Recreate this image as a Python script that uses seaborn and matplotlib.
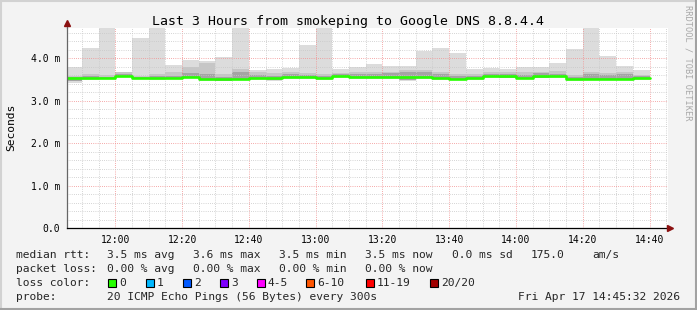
import numpy as np
import pandas as pd
import matplotlib
matplotlib.use("Agg")
import matplotlib.pyplot as plt
import seaborn as sns
from matplotlib.ticker import MultipleLocator, FixedLocator
from matplotlib.lines import Line2D
from matplotlib.patches import Rectangle

# ---------------- data ----------------
times = ["11:45", "11:50", "11:55", "12:00", "12:05", "12:10", "12:15", "12:20",
         "12:25", "12:30", "12:35", "12:40", "12:45", "12:50", "12:55", "13:00",
         "13:05", "13:10", "13:15", "13:20", "13:25", "13:30", "13:35", "13:40",
         "13:45", "13:50", "13:55", "14:00", "14:05", "14:10", "14:15", "14:20",
         "14:25", "14:30", "14:35"]
median_ms = [3.53, 3.53, 3.53, 3.58, 3.53, 3.54, 3.54, 3.56, 3.51, 3.50, 3.50, 3.53,
             3.52, 3.55, 3.55, 3.52, 3.58, 3.56, 3.55, 3.55, 3.55, 3.55, 3.52, 3.51,
             3.52, 3.57, 3.57, 3.53, 3.57, 3.58, 3.50, 3.50, 3.51, 3.51, 3.52]
min_ms = [3.42, 3.49, 3.50, 3.55, 3.50, 3.48, 3.50, 3.52, 3.47, 3.45, 3.48, 3.49,
          3.47, 3.51, 3.50, 3.48, 3.54, 3.50, 3.51, 3.51, 3.46, 3.50, 3.48, 3.48,
          3.48, 3.54, 3.52, 3.50, 3.52, 3.54, 3.47, 3.48, 3.48, 3.48, 3.49]
low_ms = [3.47, 3.50, 3.51, 3.56, 3.51, 3.50, 3.51, 3.53, 3.48, 3.47, 3.49, 3.50,
          3.49, 3.52, 3.52, 3.50, 3.55, 3.52, 3.52, 3.52, 3.49, 3.52, 3.50, 3.50,
          3.50, 3.55, 3.54, 3.51, 3.54, 3.55, 3.49, 3.49, 3.49, 3.49, 3.50]
high_ms = [3.56, 3.58, 3.56, 3.63, 3.56, 3.58, 3.58, 3.64, 3.62, 3.56, 3.66, 3.60,
           3.58, 3.62, 3.60, 3.58, 3.62, 3.62, 3.62, 3.64, 3.66, 3.66, 3.62, 3.58,
           3.58, 3.62, 3.62, 3.60, 3.64, 3.62, 3.56, 3.62, 3.60, 3.62, 3.58]
upper_ms = [3.58, 3.62, 3.60, 3.66, 3.58, 3.62, 3.66, 3.80, 3.88, 3.62, 3.74, 3.66,
            3.64, 3.66, 3.64, 3.62, 3.64, 3.68, 3.66, 3.68, 3.72, 3.72, 3.66, 3.62,
            3.62, 3.66, 3.66, 3.68, 3.68, 3.70, 3.60, 3.66, 3.64, 3.66, 3.60]
max_ms = [3.80, 4.24, 4.90, 3.66, 4.47, 4.90, 3.84, 3.95, 3.93, 4.02, 4.90, 3.72,
          3.73, 3.77, 4.31, 4.90, 3.73, 3.79, 3.86, 3.81, 3.81, 4.16, 4.24, 4.12,
          3.73, 3.77, 3.73, 3.80, 3.79, 3.88, 4.21, 4.90, 4.05, 3.81, 3.72]

x_tick_labels = ["12:00", "12:20", "12:40", "13:00", "13:20", "13:40", "14:00", "14:20", "14:40"]
y_ticks = [0.0, 1.0, 2.0, 3.0, 4.0]
y_tick_labels = ["0.0", "1.0 m", "2.0 m", "3.0 m", "4.0 m"]

loss_labels = ["0", "1", "2", "3", "4-5", "6-10", "11-19", "20/20"]
loss_colors = ["#26ff00", "#00b8ff", "#0059ff", "#7e00ff", "#ff00ff", "#ff5500", "#ff0000", "#a10000"]

title = "Last 3 Hours from smokeping to Google DNS 8.8.4.4"
start_time = "11:45:32"
end_time = "14:45:32"


def to_min(s):
    parts = [int(p) for p in s.split(":")]
    return parts[0] * 60 + parts[1] + (parts[2] / 60 if len(parts) > 2 else 0)


# ---------------- style ----------------
sns.set_style("white")
plt.rcParams["font.family"] = ["DejaVu Sans Mono"]

W, H = 697, 310
fig = plt.figure(figsize=(W / 100, H / 100), dpi=100, facecolor="#f3f3f3")

ax = fig.add_axes([67 / W, (H - 228) / H, 601 / W, 200 / H])
ax.set_facecolor("white")

t = np.array([to_min(s) for s in times])
mn, lo, hi, up, mx, med = (np.array(a) for a in (min_ms, low_ms, high_ms, upper_ms, max_ms, median_ms))

ax.bar(t, mx - mn, bottom=mn, width=5, align="edge", color="#dcdcdc", linewidth=0, zorder=1)
ax.bar(t, up - lo, bottom=lo, width=5, align="edge", color="#c6c6c6", linewidth=0, zorder=1.1)
ax.bar(t, hi - lo, bottom=lo, width=5, align="edge", color="#a4a4a4", linewidth=0, zorder=1.2)

df = pd.DataFrame({"t": list(t) + [t[-1] + 5], "median": list(med) + [med[-1]]})
sns.lineplot(data=df, x="t", y="median", drawstyle="steps-post", color="#26ff00",
             linewidth=1.9, ax=ax, zorder=4, estimator=None)

ax.set_xlim(to_min(start_time), to_min(end_time))
ax.set_ylim(0, 4.706)

ax.xaxis.set_major_locator(FixedLocator([to_min(s) for s in x_tick_labels]))
ax.set_xticklabels(x_tick_labels)
ax.xaxis.set_minor_locator(MultipleLocator(5))
ax.yaxis.set_major_locator(FixedLocator(y_ticks))
ax.set_yticklabels(y_tick_labels)
ax.yaxis.set_minor_locator(MultipleLocator(0.2))

ax.set_axisbelow(False)
ax.grid(which="minor", color="#c8c8c8", linestyle=(0, (0.72, 1.44)), linewidth=0.72, zorder=2.5)
ax.grid(which="major", color="#f29090", linestyle=(0, (0.72, 1.44)), linewidth=0.72, zorder=2.6)

ax.tick_params(axis="both", which="both", length=0, labelsize=7, colors="black")
ax.tick_params(axis="x", pad=5.0)
ax.tick_params(axis="y", pad=5.0)
ax.set_xlabel("")
ax.set_ylabel("")

for s in ("top", "right"):
    ax.spines[s].set_visible(False)
ax.spines["left"].set_color("#666666")
ax.spines["left"].set_linewidth(0.9)
ax.spines["bottom"].set_color("black")
ax.spines["bottom"].set_linewidth(0.9)
ax.spines["left"].set_zorder(5)
ax.spines["bottom"].set_zorder(5)

# axis extensions and arrow heads
ax.add_line(Line2D([0, 0], [1.0, 1.02], transform=ax.transAxes, color="#666666",
                   linewidth=0.9, clip_on=False))
ax.plot([0], [1.025], marker="^", markersize=4.5, color="#8b1010", transform=ax.transAxes,
        clip_on=False, zorder=6)
ax.plot([1.004], [0], marker=">", markersize=4.5, color="#8b1010", transform=ax.transAxes,
        clip_on=False, zorder=6)


def ftext(x, y, s, **kw):
    return fig.text(x / W, 1 - y / H, s, **kw)


# title and labels
ftext(348.5, 24.5, title, ha="center", va="baseline", fontsize=9.5, color="black")
ftext(11, 127, "Seconds", ha="center", va="center", rotation=90, fontsize=8.1, color="black")
ftext(688, 5, "RRDTOOL / TOBI OETIKER", ha="center", va="top", rotation=270,
      fontsize=6.2, color="#a8a8a8")

fs = 8.1
rows = [257.7, 271.9, 286.1, 300.3]

ftext(16, rows[0], "median rtt:", fontsize=fs, va="baseline")
for x, s in [(107, "3.5 ms avg"), (193, "3.6 ms max"), (279, "3.5 ms min"),
             (365, "3.5 ms now"), (452, "0.0 ms sd"), (531, "175.0"), (592, "am/s")]:
    ftext(x, rows[0], s, fontsize=fs, va="baseline")

ftext(16, rows[1], "packet loss:", fontsize=fs, va="baseline")
for x, s in [(107, "0.00 % avg"), (193, "0.00 % max"), (279, "0.00 % min"), (365, "0.00 % now")]:
    ftext(x, rows[1], s, fontsize=fs, va="baseline")

ftext(16, rows[2], "loss color:", fontsize=fs, va="baseline")
box_x = [108, 145.5, 182.5, 219.5, 256.5, 306, 365.5, 430]
for bx, lab, col in zip(box_x, loss_labels, loss_colors):
    fig.patches.append(Rectangle((bx / W, 1 - 286.5 / H), 8 / W, 8 / H, transform=fig.transFigure,
                                 facecolor=col, edgecolor="black", linewidth=0.8, figure=fig))
    ftext(bx + 11.5, rows[2], lab, fontsize=fs, va="baseline")

ftext(16, rows[3], "probe:", fontsize=fs, va="baseline")
ftext(107, rows[3], "20 ICMP Echo Pings (56 Bytes) every 300s", fontsize=fs, va="baseline")
ftext(680, rows[3], "Fri Apr 17 14:45:32 2026", fontsize=fs, va="baseline", ha="right")

# frame border
for (x0, y0, x1, y1, c) in [(0, 1, W, 1, "#d2d2d2"), (1, 0, 1, H, "#d2d2d2"),
                            (0, H - 1, W, H - 1, "#a2a2a2"), (W - 1, 0, W - 1, H, "#a2a2a2")]:
    fig.lines.append(Line2D([x0 / W, x1 / W], [1 - y0 / H, 1 - y1 / H], transform=fig.transFigure,
                            color=c, linewidth=1.5, figure=fig))

fig.savefig("out.png", dpi=100, facecolor=fig.get_facecolor())
